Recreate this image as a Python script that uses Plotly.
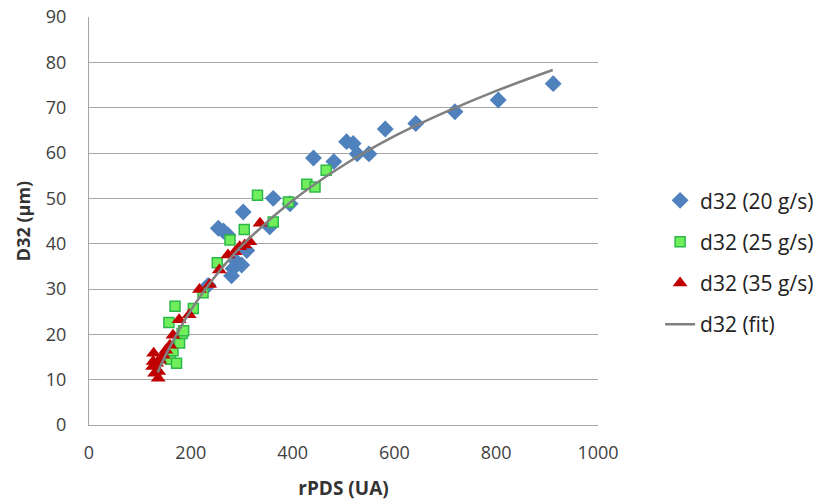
import plotly.graph_objects as go

# ---- data ----
x_20 = [234, 254, 264, 273, 280, 283, 290, 300, 310, 303, 355, 362, 395, 441, 481, 506, 519, 527, 550, 582, 642, 719, 804, 912]
y_20 = [30.8, 43.4, 42.8, 41.9, 32.9, 34.5, 36.0, 35.3, 38.5, 47.0, 43.7, 50.0, 48.8, 58.9, 58.1, 62.5, 62.1, 59.8, 59.8, 65.3, 66.5, 69.1, 71.7, 75.3]

x_25 = [157, 160, 165, 169, 172, 176, 178, 183, 186, 205, 224, 252, 277, 305, 331, 362, 392, 428, 444, 466]
y_25 = [22.6, 14.5, 16.4, 26.2, 13.6, 18.3, 18.1, 20.2, 20.8, 25.7, 29.2, 35.8, 40.8, 43.1, 50.7, 44.8, 49.2, 53.1, 52.5, 56.2]

x_35 = [125, 126, 127, 129, 133, 136, 137, 139, 146, 151, 159, 165, 177, 197, 217, 237, 256, 273, 287, 296, 306, 316, 336]
y_35 = [12.9, 14.0, 15.8, 11.4, 13.6, 10.3, 11.8, 14.3, 15.4, 16.5, 17.6, 19.8, 23.2, 24.3, 29.9, 31.0, 34.2, 37.5, 38.2, 39.3, 39.7, 40.4, 44.5]

x_fit = [135, 150, 200, 250, 300, 400, 500, 600, 700, 800, 911]
y_fit = [11.6, 15.3, 25.3, 33.1, 39.5, 49.5, 57.3, 63.7, 69.0, 73.7, 78.3]

x_ticks = [0, 200, 400, 600, 800, 1000]
y_ticks = [0, 10, 20, 30, 40, 50, 60, 70, 80, 90]

FONT = "Open Sans"
TXT = "#404040"

fig = go.Figure()
fig.add_trace(go.Scatter(
    x=x_20, y=y_20, mode="markers", name="d32 (20 g/s)", legendgroup="a",
    marker=dict(symbol="diamond", size=13, color="#4F81BD", line=dict(width=0))))
fig.add_trace(go.Scatter(
    x=x_25, y=y_25, mode="markers", name="d32 (25 g/s)", legendgroup="b",
    marker=dict(symbol="square", size=10, color="#70EE5C", line=dict(width=1.5, color="#2DB84A"))))
fig.add_trace(go.Scatter(
    x=x_35, y=y_35, mode="markers", name="d32 (35 g/s)", legendgroup="c",
    marker=dict(symbol="triangle-up", size=13, color="#C00000", line=dict(width=0))))
fig.add_trace(go.Scatter(
    x=x_fit, y=y_fit, mode="lines", name="d32 (fit)", legendgroup="d",
    line=dict(color="#808080", width=2.5, shape="spline")))

# the page body has an 8px margin, so the figure is 8px smaller and shifted
fig.update_layout(
    width=817, height=496,
    margin=dict(l=81, r=227, t=9, b=79, autoexpand=False),
    paper_bgcolor="white", plot_bgcolor="white",
    font=dict(family=FONT, size=16, color=TXT),
    showlegend=True,
    legend=dict(x=1.122, y=0.6, xanchor="left", yanchor="top",
                traceorder="grouped", tracegroupgap=11,
                font=dict(family=FONT, size=21, color="#222222"),
                bgcolor="rgba(0,0,0,0)"),
)
fig.update_xaxes(
    range=[0, 1000], tickvals=x_ticks, showgrid=False, zeroline=False,
    showline=True, linecolor="#A6A6A6", linewidth=1.3, automargin=False,
    ticks="", ticklabelstandoff=11, ticklabeloverflow="allow",
    tickfont=dict(family=FONT, size=18, color=TXT),
    title=dict(text="<b>rPDS (UA)</b>", font=dict(family=FONT, size=19, color="#333333"), standoff=18),
)
fig.update_yaxes(
    range=[0, 90], tickvals=y_ticks, showgrid=True, gridcolor="#A6A6A6", gridwidth=1.3,
    zeroline=False, showline=True, linecolor="#A6A6A6", linewidth=1.3, automargin=False,
    ticks="", ticklabelstandoff=18, ticklabeloverflow="allow",
    tickfont=dict(family=FONT, size=18, color=TXT),
    title=dict(text="<b>D32 (µm)</b>", font=dict(family=FONT, size=18, color="#333333"), standoff=10),
)

fig.write_html("out.html")
